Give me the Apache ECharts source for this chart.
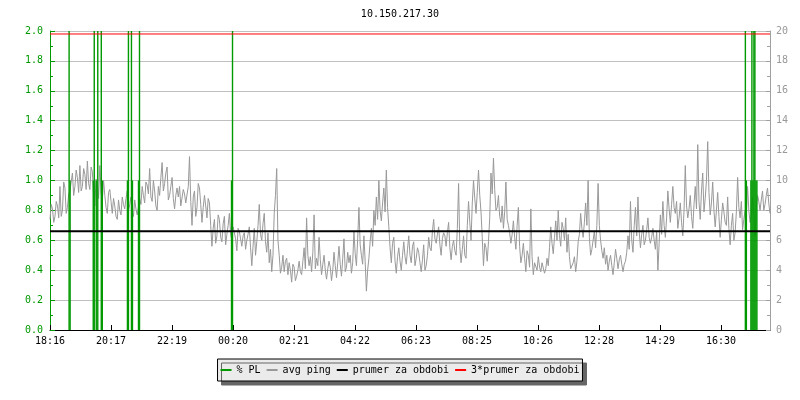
<!DOCTYPE html>
<html><head><meta charset="utf-8">
<script src="https://cdn.jsdelivr.net/npm/echarts@6/dist/echarts.min.js"></script>
<style>html,body{margin:0;padding:0;background:#fff}#c{width:800px;height:400px}</style>
</head><body><div id="c"></div>
<script>
const TITLE = '10.150.217.30';
const TICK_LABELS = ['18:16','20:17','22:19','00:20','02:21','04:22','06:23','08:25','10:26','12:28','14:29','16:30'];
const SPAN_MIN = 1432;          // minutes shown on the x axis
const TICK_STEP_MIN = 121.33;   // minutes between labelled ticks
const PING_STEP_MIN = 4.955;    // minutes between PING samples (PING_MID sits half-way)
const LEFT_TICKS = [0, 0.2, 0.4, 0.6, 0.8, 1.0, 1.2, 1.4, 1.6, 1.8, 2.0];
const RIGHT_TICKS = [0, 2, 4, 6, 8, 10, 12, 14, 16, 18, 20];

// avg ping [ms]
const PING = [
 7.4, 8.1, 7.6, 8.3, 9.6, 8.0, 9.5, 8.2, 9.3, 10.5, 9.6, 10.2, 11.0, 9.6, 10.4, 11.3,
 9.4, 10.6, 8.3, 9.8, 11.0, 8.6, 9.0, 7.8, 9.4, 7.8, 8.3, 7.4, 8.0, 8.9, 8.1, 9.3,
 8.4, 7.9, 8.7, 7.7, 8.8, 9.6, 8.5, 9.7, 10.8, 8.6, 9.3, 8.0, 9.0, 11.2, 9.8, 10.9,
 9.0, 10.2, 8.1, 9.5, 9.6, 8.4, 9.1, 8.6, 11.6, 7.0, 9.3, 8.2, 9.5, 7.2, 9.0, 7.5,
 8.5, 5.6, 7.4, 6.3, 7.4, 5.9, 7.6, 6.4,
 7.8, 6.0, 7.0, 5.3, 6.6, 5.6, 6.5, 6.0, 6.9, 4.3, 6.8, 5.9, 8.4, 6.0, 7.8, 5.2,
 4.5, 3.9, 7.8, 10.8, 5.0, 4.2, 3.9, 4.8, 4.5, 3.2, 4.2, 3.6, 4.6, 3.7, 5.5, 7.5,
 4.3, 3.9, 7.7, 4.8, 6.2, 3.7, 5.0, 3.4, 4.6, 3.3, 5.2, 3.5, 5.6, 3.6, 6.1, 4.2,
 4.5, 3.8, 6.6, 4.3, 8.2, 5.0, 6.3, 2.6, 4.8, 6.8, 8.0, 8.9, 10.0, 7.3, 9.5, 10.7,
 6.9, 4.5, 6.2, 3.8, 5.5, 4.0, 5.9, 4.4,
 6.3, 4.5, 5.9, 4.8, 5.2, 3.9, 5.7, 4.3, 6.2, 5.3, 7.4, 5.8, 6.9, 5.0, 6.5, 5.6,
 7.2, 4.7, 6.0, 5.0, 9.8, 4.5, 6.3, 4.8, 8.6, 6.0, 10.0, 7.8, 10.7, 7.9, 4.3, 5.5,
 5.9, 10.5, 11.5, 8.0, 9.0, 7.2, 6.8, 9.9, 7.0, 5.8, 7.3, 5.4, 8.2, 4.5, 5.8, 3.9,
 5.0, 8.1, 3.7, 4.6, 4.9, 3.9, 4.6, 4.1, 4.3, 6.9, 5.1, 7.3, 8.0, 5.6, 6.8, 7.5,
 6.4, 4.1, 4.5, 3.9, 5.9, 7.8, 6.2, 8.5,
 10.0, 5.0, 6.0, 5.5, 9.8, 6.0, 4.8, 4.4, 4.0, 5.0, 3.7, 5.4, 4.1, 5.0, 3.9, 4.6,
 6.3, 8.6, 5.2, 8.2, 8.9, 5.5, 7.0, 6.0, 7.5, 5.8, 6.8, 5.4, 4.0, 7.7, 8.6, 6.2,
 9.3, 7.2, 9.6, 7.8, 6.8, 8.5, 6.3, 11.0, 7.5, 9.0, 6.8, 9.6, 12.4, 7.4, 10.5, 8.8,
 12.6, 7.7, 9.9, 6.9, 9.2, 6.2, 8.5, 7.2, 8.9, 5.7, 7.8, 6.5, 10.2, 7.5, 6.7, 8.0,
 9.6, 7.2, 8.9, 6.3, 9.0, 8.0, 9.3, 8.4, 9.5, 7.8
];
// avg ping [ms], samples half-way between the PING samples
const PING_MID = [
 8.4, 7.2, 8.6, 7.5, 7.6, 9.9, 7.8, 9.1, 9.9, 9.0, 10.7, 9.2, 9.3, 10.8, 9.4, 9.8,
 10.9, 9.0, 10.1, 8.8, 9.2, 10.0, 8.2, 9.2, 8.6, 8.8, 7.6, 8.7, 7.7, 8.4, 8.8, 8.0,
 8.9, 7.6, 8.1, 8.2, 8.4, 9.0, 9.9, 9.1, 8.9, 10.0, 8.3, 9.6, 10.2, 9.3, 10.5, 8.7,
 9.6, 8.8, 9.0, 8.9, 8.3, 9.4, 8.5, 9.6, 8.6, 8.9, 7.6, 9.8, 8.4, 8.2, 8.3, 8.8,
 7.0, 6.8, 5.8, 7.7, 6.2, 7.1, 5.7, 7.0,
 6.4, 6.9, 6.1, 6.8, 6.1, 6.3, 5.4, 6.4, 5.5, 5.6, 5.0, 7.0, 6.4, 7.1, 5.9, 6.5,
 5.4, 5.0, 9.0, 6.0, 3.8, 5.0, 4.6, 3.7, 4.0, 4.4, 3.3, 4.0, 3.9, 4.6, 4.1, 5.0,
 4.9, 5.2, 4.1, 4.3, 4.7, 4.4, 4.0, 4.1, 4.2, 4.0, 4.3, 4.5, 4.4, 4.8, 3.9, 5.2,
 5.0, 4.5, 5.1, 6.1, 5.7, 4.4, 4.6, 4.0, 5.9, 5.6, 7.0, 7.4, 8.0, 8.5, 7.9, 8.2,
 5.5, 5.8, 4.6, 4.9, 4.6, 5.0, 4.9, 5.4,
 5.0, 5.6, 4.3, 5.5, 4.5, 4.7, 4.0, 5.0, 5.5, 6.6, 6.1, 6.4, 5.7, 6.1, 6.3, 6.5,
 5.5, 5.6, 5.3, 6.8, 5.6, 5.4, 5.0, 7.0, 7.2, 8.5, 8.8, 9.2, 9.0, 6.2, 5.8, 4.6,
 7.5, 9.1, 9.4, 8.2, 7.6, 8.3, 7.9, 7.4, 6.5, 6.4, 6.2, 7.0, 5.6, 5.0, 4.8, 5.3,
 4.2, 4.9, 4.5, 4.0, 4.2, 4.5, 3.8, 4.8, 5.5, 5.8, 6.2, 6.0, 6.3, 7.2, 6.0, 5.2,
 4.9, 4.0, 4.9, 4.6, 6.4, 6.8, 7.2, 7.0,
 6.2, 5.4, 6.6, 7.0, 7.0, 5.3, 5.5, 5.0, 4.6, 4.3, 4.5, 4.8, 4.7, 4.4, 4.4, 5.2,
 5.4, 6.0, 7.0, 6.3, 6.6, 6.4, 5.7, 6.7, 6.2, 6.2, 6.0, 6.6, 5.8, 6.4, 7.0, 7.5,
 8.1, 8.4, 8.2, 8.6, 7.5, 7.2, 8.0, 8.3, 8.1, 7.6, 8.4, 8.1, 8.6, 9.3, 7.9, 10.0,
 9.2, 8.5, 8.0, 8.0, 7.6, 7.4, 7.9, 7.0, 6.8, 7.0, 6.0, 7.9, 8.2, 8.6, 7.4, 7.7,
 8.0, 7.6, 7.7, 8.2, 8.6, 8.7, 8.0, 9.0, 8.5
];

// packet loss [%], times in minutes from start
const PL_TIMES  = [38, 40, 86, 88, 92, 95, 102, 104, 154, 156, 162, 164, 176, 178, 361, 363,
                   1383, 1385, 1394, 1396, 1398, 1400, 1402, 1404, 1406];
const PL_VALUES = [2.0, 1.0, 1.0, 2.0, 1.0, 2.0, 2.0, 1.0, 1.0, 2.0, 2.0, 1.0, 1.0, 2.0, 1.0, 2.0,
                   2.0, 1.0, 1.0, 2.0, 1.0, 2.0, 2.0, 1.0, 1.0];

const PRUMER = 6.6;     // prumer za obdobi [ms]
const PRUMER3 = 19.8;   // 3*prumer za obdobi [ms]

const FONT = 'DejaVu Sans Mono';
const GREEN = '#009900';
const GRAY = '#999999';

const pingData = [];
PING.forEach((v, i) => {
  pingData.push([i * PING_STEP_MIN, v]);
  if (i < PING_MID.length) pingData.push([(i + 0.5) * PING_STEP_MIN, PING_MID[i]]);
});

const chart = echarts.init(document.getElementById('c'), null, {renderer: 'canvas'});
chart.setOption({
  animation: false,
  backgroundColor: '#ffffff',
  title: {
    text: TITLE, left: 'center', top: 4,
    textStyle: {fontFamily: FONT, fontSize: 10, fontWeight: 'normal', color: '#000'}
  },
  grid: {left: 50, right: 30, top: 31, bottom: 70, containLabel: false, outerBoundsMode: 'none'},
  legend: {
    left: 'center', top: 359, orient: 'horizontal',
    icon: 'rect', itemWidth: 11, itemHeight: 2, itemGap: 6,
    padding: [6, 3],
    backgroundColor: '#ebebeb', borderColor: '#000', borderWidth: 1,
    shadowColor: '#666', shadowOffsetX: 4, shadowOffsetY: 4, shadowBlur: 0.01,
    textStyle: {fontFamily: FONT, fontSize: 10, color: '#000'},
    data: ['% PL', 'avg ping', 'prumer za obdobi', '3*prumer za obdobi']
  },
  xAxis: {
    type: 'value', min: 0, max: SPAN_MIN, interval: TICK_STEP_MIN,
    axisLine: {lineStyle: {color: '#000', width: 1}},
    axisTick: {show: true, inside: true, length: 5, lineStyle: {color: '#000'}},
    splitLine: {show: false},
    axisLabel: {
      fontFamily: FONT, fontSize: 10, color: '#000', margin: 6, showMaxLabel: false,
      formatter: v => {
        const i = Math.round(v / TICK_STEP_MIN);
        return (Math.abs(v - i * TICK_STEP_MIN) < 0.5 && TICK_LABELS[i]) ? TICK_LABELS[i] : '';
      }
    }
  },
  yAxis: [{
    type: 'value', position: 'left',
    min: LEFT_TICKS[0], max: LEFT_TICKS[LEFT_TICKS.length - 1], interval: LEFT_TICKS[1] - LEFT_TICKS[0],
    axisLine: {show: true, lineStyle: {color: GREEN, width: 1}},
    axisTick: {show: true, inside: true, length: 5, lineStyle: {color: GREEN}},
    minorTick: {show: true, splitNumber: 2, length: 3, lineStyle: {color: GREEN}},
    splitLine: {show: true, lineStyle: {color: '#c0c0c0', width: 1}},
    axisLabel: {fontFamily: FONT, fontSize: 10, color: GREEN, margin: 7, formatter: v => v.toFixed(1)}
  }, {
    type: 'value', position: 'right',
    min: RIGHT_TICKS[0], max: RIGHT_TICKS[RIGHT_TICKS.length - 1], interval: RIGHT_TICKS[1] - RIGHT_TICKS[0],
    axisLine: {show: true, lineStyle: {color: '#a0a0a0', width: 1}},
    axisTick: {show: true, inside: true, length: 4, lineStyle: {color: '#a0a0a0'}},
    minorTick: {show: true, splitNumber: 2, length: 3, lineStyle: {color: '#a0a0a0'}},
    splitLine: {show: false},
    axisLabel: {fontFamily: FONT, fontSize: 10, color: GRAY, margin: 6}
  }],
  series: [{
    name: 'avg ping', type: 'line', yAxisIndex: 1, z: 2,
    data: pingData,
    showSymbol: false, symbol: 'none', sampling: null,
    color: GRAY, lineStyle: {color: GRAY, width: 1}
  }, {
    name: '% PL', type: 'bar', yAxisIndex: 0, z: 3,
    data: PL_TIMES.map((t, i) => [t, PL_VALUES[i]]),
    barWidth: 1.4, color: GREEN, itemStyle: {color: GREEN}
  }, {
    name: 'prumer za obdobi', type: 'line', yAxisIndex: 1, z: 4,
    data: [[0, PRUMER], [SPAN_MIN, PRUMER]],
    showSymbol: false, symbol: 'none',
    color: '#000', lineStyle: {color: '#000', width: 2}
  }, {
    name: '3*prumer za obdobi', type: 'line', yAxisIndex: 1, z: 4,
    data: [[0, PRUMER3], [SPAN_MIN, PRUMER3]],
    showSymbol: false, symbol: 'none',
    color: '#ff0000', lineStyle: {color: '#ff0000', width: 1}
  }]
});
</script>
</body></html>
